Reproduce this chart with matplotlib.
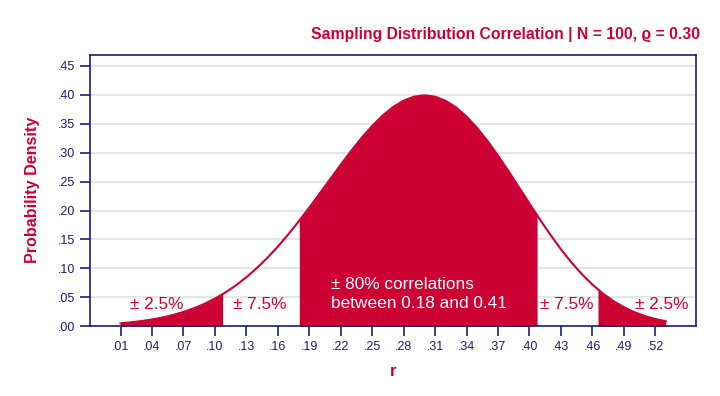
import matplotlib
matplotlib.use("Agg")
import numpy as np
import matplotlib.pyplot as plt

# values
r_vals = [0.01, 0.02, 0.03, 0.04, 0.05, 0.06, 0.07, 0.08, 0.09, 0.10, 0.1073,
          0.11, 0.12, 0.13, 0.14, 0.15, 0.16, 0.17, 0.18, 0.1805, 0.19, 0.20,
          0.21, 0.22, 0.23, 0.24, 0.25, 0.26, 0.27, 0.28, 0.29, 0.30, 0.31,
          0.32, 0.33, 0.34, 0.35, 0.36, 0.37, 0.38, 0.39, 0.40, 0.4073, 0.41,
          0.42, 0.43, 0.44, 0.45, 0.46, 0.4654, 0.47, 0.48, 0.49, 0.50, 0.51,
          0.52, 0.53]
density = [0.0051, 0.0069, 0.0090, 0.0118, 0.0152, 0.0195, 0.0248, 0.0311, 0.0387,
           0.0478, 0.0555, 0.0584, 0.0706, 0.0847, 0.1005, 0.1182, 0.1376, 0.1587,
           0.1813, 0.1825, 0.2050, 0.2295, 0.2543, 0.2790, 0.3030, 0.3256, 0.3461,
           0.3641, 0.3788, 0.3898, 0.3966, 0.3989, 0.3966, 0.3896, 0.3781, 0.3623,
           0.3428, 0.3201, 0.2950, 0.2681, 0.2402, 0.2121, 0.1920, 0.1845, 0.1581,
           0.1332, 0.1105, 0.0901, 0.0721, 0.0638, 0.0567, 0.0438, 0.0331, 0.0245,
           0.0178, 0.0126, 0.0088]

# shaded region edges
lo_tail = 0.1073
lo_mid = 0.1805
hi_mid = 0.4073
hi_tail = 0.4654

xtick_vals = [0.01, 0.04, 0.07, 0.10, 0.13, 0.16, 0.19, 0.22, 0.25, 0.28,
              0.31, 0.34, 0.37, 0.40, 0.43, 0.46, 0.49, 0.52]
xtick_labels = ['.01', '.04', '.07', '.10', '.13', '.16', '.19', '.22', '.25',
                '.28', '.31', '.34', '.37', '.40', '.43', '.46', '.49', '.52']
ytick_vals = [0.00, 0.05, 0.10, 0.15, 0.20, 0.25, 0.30, 0.35, 0.40, 0.45]
ytick_labels = ['.00', '.05', '.10', '.15', '.20', '.25', '.30', '.35', '.40', '.45']

red = '#cc0033'
navy = '#1c1c78'

plt.rcParams['font.family'] = ['Liberation Sans', 'DejaVu Sans']

fig = plt.figure(figsize=(7.2, 3.96), dpi=100)
ax = fig.add_axes([0.125, 0.176, 0.8417, 0.685])

r = np.array(r_vals)
d = np.array(density)

ax.fill_between(r, 0, d, where=r <= lo_tail, color=red, lw=0, zorder=2)
ax.fill_between(r, 0, d, where=(r >= lo_mid) & (r <= hi_mid), color=red, lw=0, zorder=2)
ax.fill_between(r, 0, d, where=r >= hi_tail, color=red, lw=0, zorder=2)
ax.plot(r, d, color=red, lw=1.5, zorder=3)

ax.set_xlim(-0.0191, 0.5589)
ax.set_ylim(0, 0.4685)
ax.set_xticks(xtick_vals)
ax.set_xticklabels(xtick_labels)
ax.set_yticks(ytick_vals)
ax.set_yticklabels(ytick_labels)
ax.tick_params(colors=navy, labelsize=9, length=7, width=1.2, direction='out')
ax.yaxis.grid(True, color='#e3e3e3', lw=1.3, zorder=0)
ax.set_axisbelow(True)
for s in ax.spines.values():
    s.set_color(navy)
    s.set_linewidth(1.2)

ax.set_xlabel('r', color=red, fontsize=12, fontweight='bold', labelpad=8)
fig.text(0.045, 0.52, 'Probability Density', color=red, fontsize=11.6,
         fontweight='bold', rotation=90, ha='center', va='center')
fig.text(0.972, 0.913, 'Sampling Distribution Correlation | N = 100, \u03f1 = 0.30',
         color=red, fontsize=11.3, fontweight='bold', ha='right', va='center')

ax.text(0.045, 0.0385, '\u00b1 2.5%', color=red, fontsize=12.4, ha='center', va='center', zorder=4)
ax.text(0.143, 0.0385, '\u00b1 7.5%', color=red, fontsize=12.4, ha='center', va='center', zorder=4)
ax.text(0.436, 0.0385, '\u00b1 7.5%', color=red, fontsize=12.4, ha='center', va='center', zorder=4)
ax.text(0.526, 0.0385, '\u00b1 2.5%', color=red, fontsize=12.4, ha='center', va='center', zorder=4)
ax.text(0.211, 0.0555, '\u00b1 80% correlations\nbetween 0.18 and 0.41', color='white',
        fontsize=12.4, ha='left', va='center', linespacing=1.3, zorder=4)

fig.savefig('out.png', dpi=100)
